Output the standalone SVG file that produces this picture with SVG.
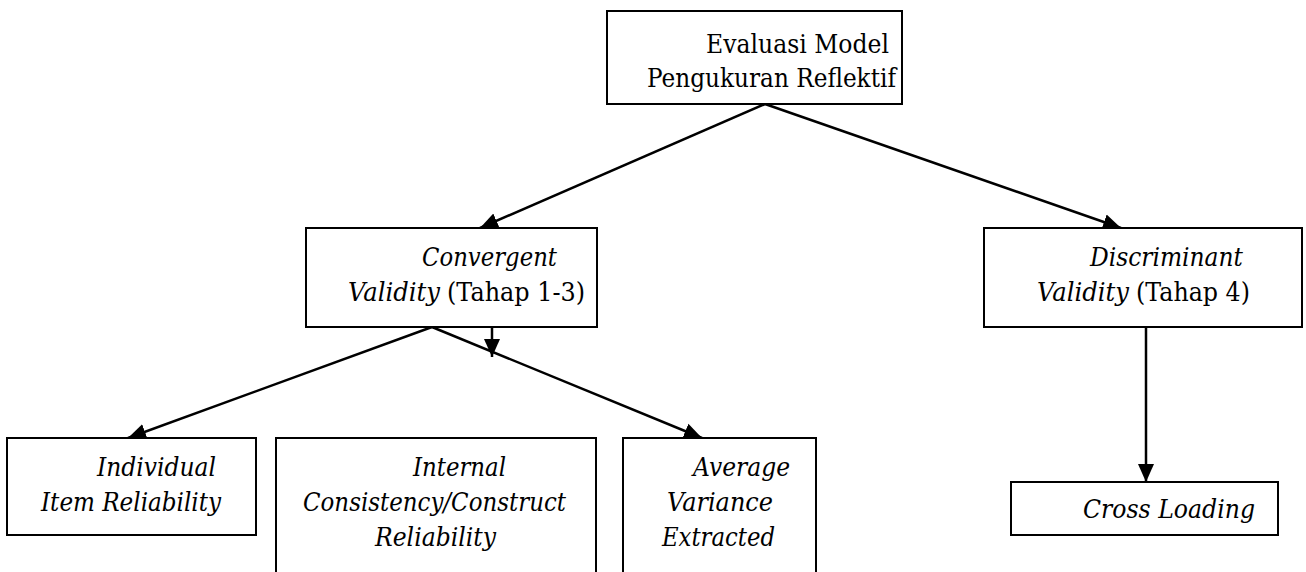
<svg xmlns="http://www.w3.org/2000/svg" width="1306" height="572" viewBox="0 0 1306 572">
<style>
.box{fill:#fff;stroke:#000;stroke-width:2}
.t{font-family:'DejaVu Serif','Liberation Serif','Times New Roman',serif;font-size:26px;fill:#000}
.i{font-style:italic}
.c{stroke:#000;stroke-width:2.5;fill:none;marker-end:url(#ah)}
</style>
<defs>
<marker id="ah" markerUnits="userSpaceOnUse" markerWidth="20" markerHeight="18" refX="18" refY="9" orient="auto">
<path d="M0,1 L18,9 L0,17 Z" fill="#000"/>
</marker>
</defs>
<rect width="1306" height="572" fill="#fff"/>
<g id="connectors">
<line class="c" x1="765" y1="104" x2="480" y2="228"/>
<line class="c" x1="765" y1="104" x2="1121" y2="228"/>
<line class="c" x1="432" y1="327" x2="128" y2="438"/>
<line class="c" x1="432" y1="327" x2="702" y2="438"/>
<line class="c" x1="492" y1="327" x2="492" y2="357"/>
<line class="c" x1="1146" y1="327" x2="1146" y2="482"/>
</g>
<g id="n-evaluasi">
<rect class="box" x="607" y="11" width="295" height="93"/>
<text class="t" x="706" y="53" textLength="183" lengthAdjust="spacingAndGlyphs">Evaluasi Model</text>
<text class="t" x="647" y="87" textLength="249" lengthAdjust="spacingAndGlyphs">Pengukuran Reflektif</text>
</g>
<g id="n-convergent">
<rect class="box" x="306" y="228" width="291" height="99"/>
<text class="t i" x="422" y="266" textLength="135" lengthAdjust="spacingAndGlyphs">Convergent</text>
<text class="t i" x="348" y="301" textLength="92" lengthAdjust="spacingAndGlyphs">Validity</text>
<text class="t" x="447" y="301" textLength="138" lengthAdjust="spacingAndGlyphs">(Tahap 1-3)</text>
</g>
<g id="n-discriminant">
<rect class="box" x="984" y="228" width="318" height="99"/>
<text class="t i" x="1090" y="266" textLength="153" lengthAdjust="spacingAndGlyphs">Discriminant</text>
<text class="t i" x="1037" y="301" textLength="92" lengthAdjust="spacingAndGlyphs">Validity</text>
<text class="t" x="1136" y="301" textLength="114" lengthAdjust="spacingAndGlyphs">(Tahap 4)</text>
</g>
<g id="n-individual">
<rect class="box" x="7" y="438" width="249" height="97"/>
<text class="t i" x="97" y="476" textLength="119" lengthAdjust="spacingAndGlyphs">Individual</text>
<text class="t i" x="41" y="511" textLength="180" lengthAdjust="spacingAndGlyphs">Item Reliability</text>
</g>
<g id="n-internal">
<rect class="box" x="276" y="438" width="320" height="160"/>
<text class="t i" x="413" y="476" textLength="93" lengthAdjust="spacingAndGlyphs">Internal</text>
<text class="t i" x="303" y="511" textLength="263" lengthAdjust="spacingAndGlyphs">Consistency/Construct</text>
<text class="t i" x="375" y="546" textLength="121" lengthAdjust="spacingAndGlyphs">Reliability</text>
</g>
<g id="n-average">
<rect class="box" x="623" y="438" width="193" height="160"/>
<text class="t i" x="693" y="476" textLength="97" lengthAdjust="spacingAndGlyphs">Average</text>
<text class="t i" x="667" y="511" textLength="106" lengthAdjust="spacingAndGlyphs">Variance</text>
<text class="t i" x="662" y="546" textLength="113" lengthAdjust="spacingAndGlyphs">Extracted</text>
</g>
<g id="n-cross">
<rect class="box" x="1011" y="482" width="267" height="53"/>
<text class="t i" x="1083" y="518" textLength="172" lengthAdjust="spacingAndGlyphs">Cross Loading</text>
</g>
</svg>
